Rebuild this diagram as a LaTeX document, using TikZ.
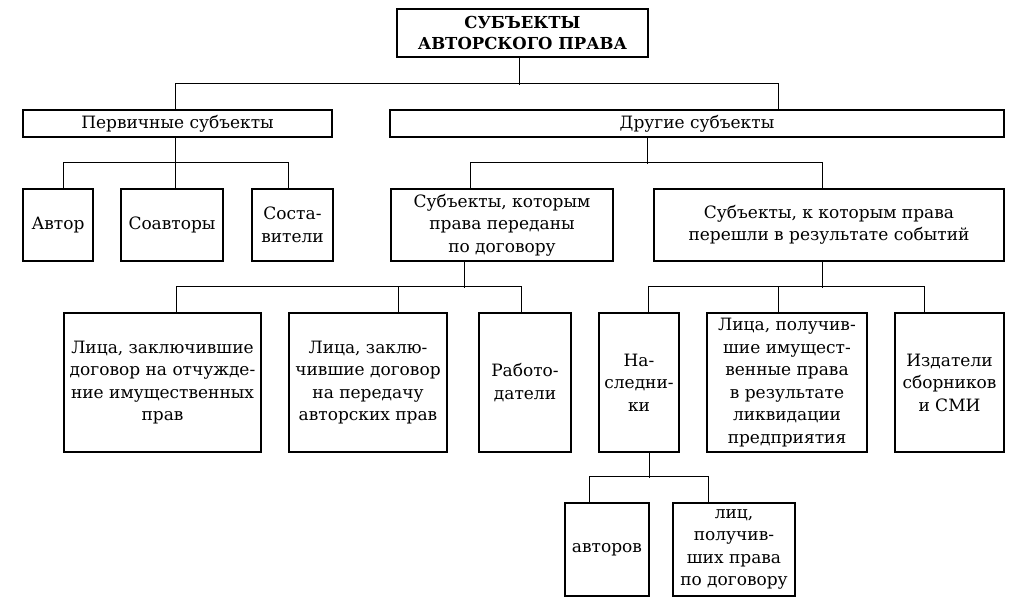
\documentclass[tikz,border=0pt]{standalone}
\usepackage{fontspec}
\setmainfont{DejaVu Serif}
\tikzstyle{blk}=[rectangle, draw, line width=1.5pt, align=center, inner sep=0pt, font=\fontsize{17}{22.5}\selectfont]
\tikzstyle{conn}=[line width=0.9pt]

\begin{document}
\begin{tikzpicture}[x=1pt,y=-1pt]
        \useasboundingbox (0,0) rectangle (1029,612);
        % level 0
        \draw (522.5,33) node[blk, minimum width=251pt, minimum height=48pt, font=\bfseries\fontsize{16.5}{21}\selectfont](top){СУБЪЕКТЫ\\АВТОРСКОГО ПРАВА};
        % level 1
        \draw (177.5,123.5) node[blk, minimum width=309pt, minimum height=27pt](prim){Первичные субъекты};
        \draw (697,123.5) node[blk, minimum width=614pt, minimum height=27pt](oth){Другие субъекты};
        % level 2
        \draw (58,225) node[blk, minimum width=70pt, minimum height=72pt](avtor){Автор};
        \draw (172,225) node[blk, minimum width=102pt, minimum height=72pt](soavt){Соавторы};
        \draw (292.5,225) node[blk, minimum width=81pt, minimum height=72pt](sost){Соста-\\вители};
        \draw (502,225) node[blk, minimum width=222pt, minimum height=72pt](dog){Субъекты, которым\\права переданы\\по договору};
        \draw (829,225) node[blk, minimum width=350pt, minimum height=72pt](evt){Субъекты, к которым права\\перешли в результате событий};
        % level 3
        \draw (162.5,382.5) node[blk, minimum width=197pt, minimum height=139pt](otch){Лица, заключившие\\договор на отчужде-\\ние имущественных\\прав};
        \draw (368,382.5) node[blk, minimum width=158pt, minimum height=139pt](pered){Лица, заклю-\\чившие договор\\на передачу\\авторских прав};
        \draw (525,382.5) node[blk, minimum width=92pt, minimum height=139pt](rab){Работо-\\датели};
        \draw (639,382.5) node[blk, minimum width=80pt, minimum height=139pt](nasl){На-\\следни-\\ки};
        \draw (787,382.5) node[blk, minimum width=160pt, minimum height=139pt](likv){Лица, получив-\\шие имущест-\\венные права\\в результате\\ликвидации\\предприятия};
        \draw (949.5,382.5) node[blk, minimum width=109pt, minimum height=139pt](izd){Издатели\\сборников\\и СМИ};
        % level 4
        \draw (607,549.5) node[blk, minimum width=84pt, minimum height=93pt](avt){авторов};
        \draw (734,549.5) node[blk, minimum width=122pt, minimum height=93pt](lic){лиц,\\получив-\\ших права\\по договору};
        %
        \draw[conn] ([xshift=-3.5pt]top.south) -- ++(0,27);
        \draw[conn] ([xshift=-2.5pt]prim.north) -- ++(0,-26) -| ([xshift=81pt]oth.north);
        %
        \draw[conn] ([xshift=-2.5pt]prim.south) -- ++(0,26);
        \draw[conn] ([xshift=5pt]avtor.north) -- ++(0,-26) -| ([xshift=-4.5pt]sost.north);
        \draw[conn] ([xshift=3pt]soavt.north) -- ++(0,-26);
        %
        \draw[conn] ([xshift=-50pt]oth.south) -- ++(0,26);
        \draw[conn] ([xshift=-32pt]dog.north) -- ++(0,-26) -| ([xshift=-7pt]evt.north);
        %
        \draw[conn] ([xshift=-38pt]dog.south) -- ++(0,26);
        \draw[conn] ([xshift=13.5pt]otch.north) -- ++(0,-26) -| ([xshift=-4pt]rab.north);
        \draw[conn] ([xshift=30pt]pered.north) -- ++(0,-26);
        %
        \draw[conn] ([xshift=-7pt]evt.south) -- ++(0,26);
        \draw[conn] ([xshift=9pt]nasl.north) -- ++(0,-26) -| ([xshift=-25.5pt]izd.north);
        \draw[conn] ([xshift=-9pt]likv.north) -- ++(0,-26);
        %
        \draw[conn] ([xshift=10pt]nasl.south) -- ++(0,25);
        \draw[conn] ([xshift=-18pt]avt.north) -- ++(0,-26) -| ([xshift=-26pt]lic.north);
      \end{tikzpicture}
\end{document}
